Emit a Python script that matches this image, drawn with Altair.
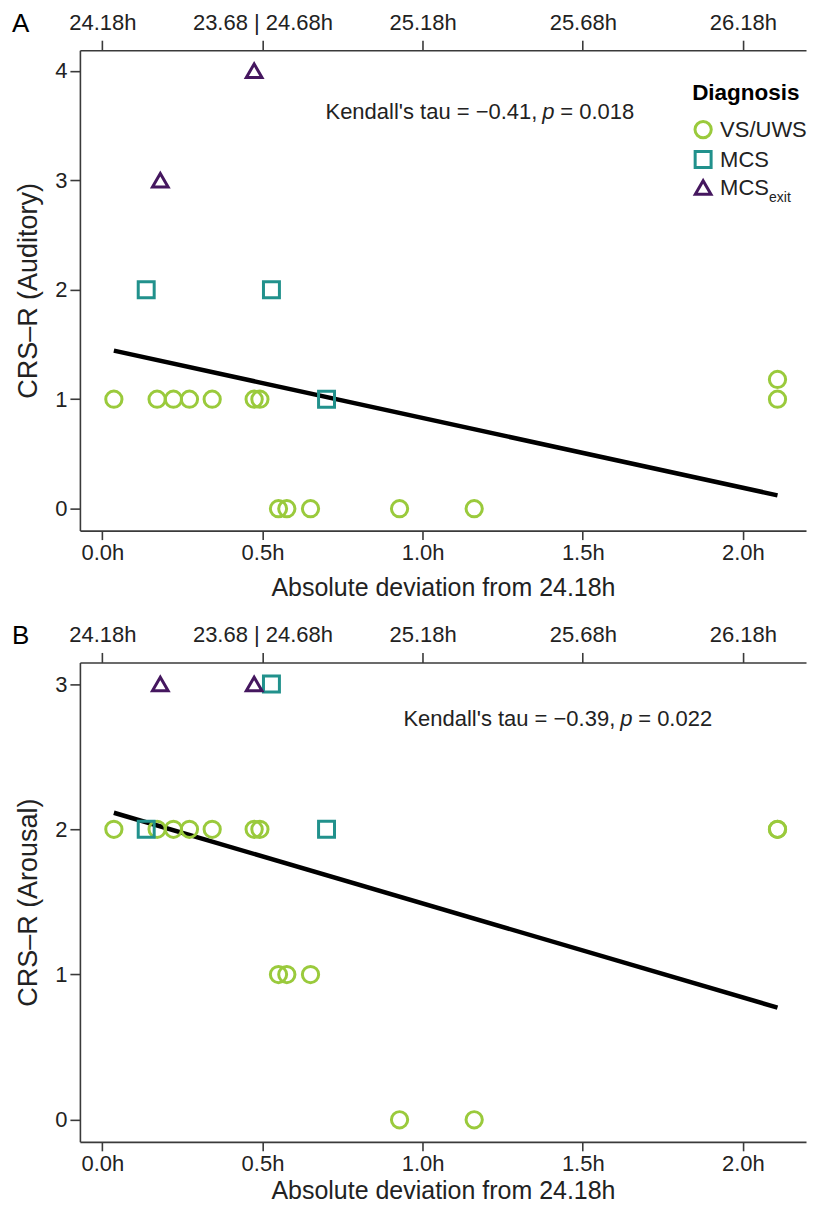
import altair as alt
import pandas as pd

# ---------------- data ----------------
diagnoses = ["VS/UWS", "MCS", "MCS_exit"]
colors = ["#9aca3c", "#21918c", "#45175f"]
shapes = ["circle", "square", "triangle-up"]
sizes = [265, 245, 400]

# absolute deviation from 24.18h (hours)
vs_x = [0.036, 0.171, 0.222, 0.272, 0.343, 0.474, 0.492, 0.550, 0.576, 0.650, 0.928, 1.161, 2.108, 2.108]
vs_aud = [1, 1, 1, 1, 1, 1, 1, 0, 0, 0, 0, 0, 1.18, 1]
vs_aro = [2, 2, 2, 2, 2, 2, 2, 1, 1, 1, 0, 0, 2, 2]

mcs_x = [0.137, 0.528, 0.700]
mcs_aud = [2, 2, 1]
mcs_aro = [2, 3, 2]

exit_x = [0.181, 0.474]
exit_aud = [3, 4]
exit_aro = [3, 3]

# fitted regression lines (end points)
fit_x = [0.036, 2.108]
fit_aud = [1.443, 0.122]
fit_aro = [2.114, 0.772]

bottom_ticks = [0, 0.5, 1.0, 1.5, 2.0]
top_labels = ["24.18h", "23.68 | 24.68h", "25.18h", "25.68h", "26.18h"]

FONT = "Liberation Sans"
INK = "#222222"
AXC = "#3a3a3a"


def top_label_expr():
    expr = "''"
    for v, lab in reversed(list(zip(bottom_ticks, top_labels))):
        expr = f"abs(datum.value - {v}) < 0.001 ? '{lab}' : ({expr})"
    return expr


def make_df(yv_vs, yv_mcs, yv_exit):
    xs = vs_x + mcs_x + exit_x
    ys = yv_vs + yv_mcs + yv_exit
    dx = ["VS/UWS"] * len(vs_x) + ["MCS"] * len(mcs_x) + ["MCS_exit"] * len(exit_x)
    return pd.DataFrame({"x": xs, "y": ys, "dx": dx})


def panel(df, fit_y, ytitle, ydom, yticks, letter, tau_txt, p_txt, p_x, p_y, show_legend, h, xtp):
    xs = alt.Scale(domain=[-0.07, 2.197], nice=False, zero=False)
    ys = alt.Scale(domain=ydom, nice=False, zero=False)
    yaxis = alt.Axis(values=yticks, format="d", title=ytitle, titlePadding=12,
                     titleFontSize=27, labelPadding=3)
    bottom_axis = alt.Axis(values=bottom_ticks, labelExpr="format(datum.value, '.1f') + 'h'",
                           title="Absolute deviation from 24.18h", titlePadding=xtp,
                           labelPadding=3, tickSize=9, titleFontSize=25)
    top_axis = alt.Axis(orient="top", values=bottom_ticks, labelExpr=top_label_expr(),
                        title=None, labelPadding=6, tickSize=10)

    if show_legend:
        leg = alt.Legend(title="Diagnosis", orient="none", legendX=613, legendY=32, padding=0,
                         labelExpr="datum.label == 'MCS_exit' ? 'MCS' : datum.label")
    else:
        leg = None

    pts = alt.Chart(df).mark_point(filled=False, strokeWidth=3, opacity=1).encode(
        x=alt.X("x:Q", scale=xs, axis=bottom_axis),
        y=alt.Y("y:Q", scale=ys, axis=yaxis),
        color=alt.Color("dx:N", scale=alt.Scale(domain=diagnoses, range=colors), legend=leg),
        shape=alt.Shape("dx:N", scale=alt.Scale(domain=diagnoses, range=shapes), legend=leg),
        size=alt.Size("dx:N", scale=alt.Scale(domain=diagnoses, range=sizes), legend=leg),
    )

    fit_df = pd.DataFrame({"x": fit_x, "y": fit_y})
    line = alt.Chart(fit_df).mark_line(color="black", strokeWidth=4.5).encode(
        x=alt.X("x:Q", scale=xs, axis=top_axis),
        y=alt.Y("y:Q", scale=ys, axis=yaxis),
    )

    one = pd.DataFrame({"k": [0]})
    lab = alt.Chart(one).mark_text(align="left", baseline="middle", fontSize=26, font=FONT, color="black").encode(
        x=alt.value(-68), y=alt.value(-26.5), text=alt.value(letter))
    t1 = alt.Chart(one).mark_text(align="right", baseline="middle", fontSize=22, font=FONT, color=INK).encode(
        x=alt.value(p_x - 5), y=alt.value(p_y), text=alt.value(tau_txt))
    t2 = alt.Chart(one).mark_text(align="left", baseline="middle", fontSize=22, font=FONT, fontStyle="italic", color=INK).encode(
        x=alt.value(p_x), y=alt.value(p_y), text=alt.value("p"))
    t3 = alt.Chart(one).mark_text(align="left", baseline="middle", fontSize=22, font=FONT, color=INK).encode(
        x=alt.value(p_x + 18), y=alt.value(p_y), text=alt.value(p_txt))

    layers = [line, pts, lab, t1, t2, t3]
    if show_legend:
        sub = alt.Chart(one).mark_text(align="left", baseline="middle", fontSize=14, font=FONT, color=INK).encode(
            x=alt.value(690), y=alt.value(148), text=alt.value("exit"))
        layers.append(sub)

    return alt.layer(*layers).resolve_axis(x="independent").properties(width=727, height=h)


dfA = make_df(vs_aud, mcs_aud, exit_aud)
dfB = make_df(vs_aro, mcs_aro, exit_aro)

A = panel(dfA, fit_aud, "CRS–R (Auditory)", [-0.2, 4.187], [0, 1, 2, 3, 4], "A",
          "Kendall's tau = −0.41,", "= 0.018", 463, 61.5, True, 481, 12)
B = panel(dfB, fit_aro, "CRS–R (Arousal)", [-0.152, 3.149], [0, 1, 2, 3], "B",
          "Kendall's tau = −0.39,", "= 0.022", 541, 56.5, False, 480, 4)

chart = alt.vconcat(A, B, spacing=22).resolve_scale(
    color="independent", shape="independent", size="independent"
).properties(
    padding={"left": 4, "top": 1.5, "right": 0, "bottom": 0}
).configure_view(stroke=None).configure_axis(
    grid=False, domainColor=AXC, domainWidth=1.6, tickColor=AXC, tickWidth=1.6, tickSize=10,
    labelColor=INK, labelFont=FONT, labelFontSize=22, titleFont=FONT, titleFontSize=25,
    titleFontWeight="normal", titleColor=INK,
).configure_legend(
    titleFont=FONT, titleFontSize=22.5, titleFontWeight="bold", titleColor="black",
    labelFont=FONT, labelFontSize=22, labelColor=INK, symbolStrokeWidth=3,
    rowPadding=1, titlePadding=14, labelOffset=6,
)

chart.save("out.html", embed_options={"renderer": "svg", "actions": False})
